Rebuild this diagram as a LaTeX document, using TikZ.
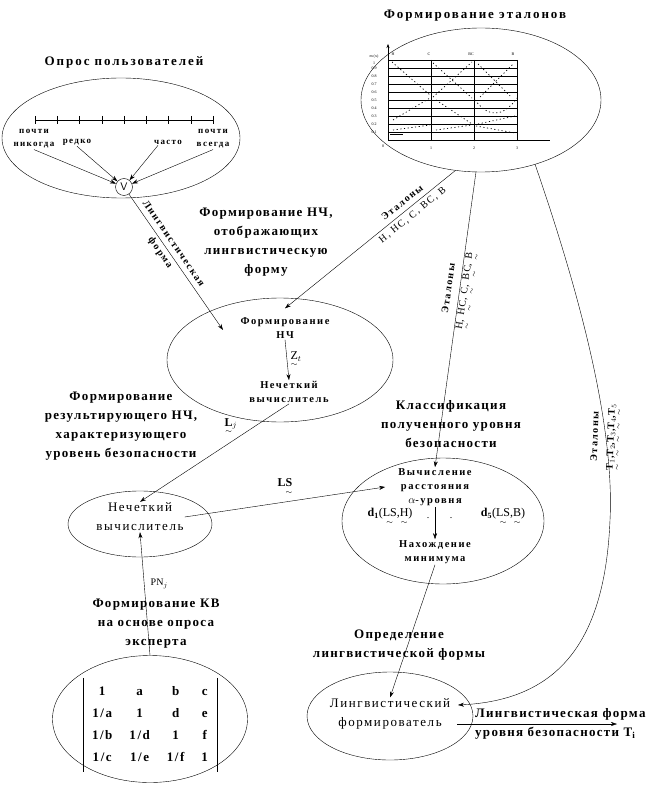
\documentclass[tikz,border=0pt]{standalone}
\usepackage{amsmath}
\usepackage{fontspec}
\setmainfont{Liberation Serif}
\newfontfamily\headfont[LetterSpace=10]{Liberation Serif}
\newfontfamily\widefont[LetterSpace=15]{Liberation Serif}
\newfontfamily\smallfont[LetterSpace=15]{Liberation Serif}
\newfontfamily\bodyfont[LetterSpace=12]{Liberation Serif}
\usetikzlibrary{shapes.geometric,arrows.meta,matrix}

% fuzzy value: tilde under the letter
\newcommand{\fuz}[1]{\ensuremath{\underset{\sim}{\mbox{#1}}}}

\tikzset{
  >={Stealth[length=6pt,width=4pt]},
  heading/.style={font=\headfont\bfseries\fontsize{13}{19}\selectfont, align=center, inner sep=1pt},
  wideheading/.style={heading, font=\widefont\bfseries\fontsize{13}{19}\selectfont},
  inner/.style={font=\smallfont\bfseries\fontsize{10.5}{14}\selectfont, align=center, inner sep=1pt},
  plain/.style={font=\bodyfont\fontsize{13}{19}\selectfont, align=center, inner sep=1pt},
  arrlabel/.style={font=\smallfont\bfseries\fontsize{10}{16}\selectfont, align=center, inner sep=1pt},
  scalelbl/.style={font=\smallfont\bfseries\fontsize{9}{13}\selectfont, align=center, inner sep=1pt},
  tiny/.style={font=\fontsize{4}{5}\selectfont, inner sep=0pt},
  oval/.style={draw, ellipse, inner sep=0pt},
  mf/.style={dash pattern=on 1.2pt off 2.5pt, line width=0.7pt}
}

\begin{document}
\begin{tikzpicture}[x=1pt,y=-1pt]
  \useasboundingbox (0,0) rectangle (646,791);

  % Опрос пользователей
  \node[wideheading] (tUsers) at (124,62) {Опрос пользователей};
  \node[oval, minimum width=238pt, minimum height=120pt] (users) at (121,138) {};
  \draw (35,120) -- (213,120);
  \foreach \x in {35,57.25,...,213} \draw (\x,116) -- (\x,124);
  \node[scalelbl] (lNever) at (34,139) {почти\\никогда};
  \node[scalelbl] (lRare) at (77,142) {редко};
  \node[scalelbl] (lOften) at (168,142) {часто};
  \node[scalelbl] (lAlways) at (213,139) {почти\\всегда};
  \node[draw, circle, fill=white, minimum size=17pt, inner sep=0pt,
        font=\sffamily\fontsize{11}{11}\selectfont] (vee) at (124,187) {V};
  \draw[->] (lNever.south) -- (vee);
  \draw[->] (lRare.south) -- (vee);
  \draw[->] ([xshift=-10pt]lOften.south) -- (vee);
  \draw[->] (lAlways.south) -- (vee);

  % Формирование эталонов
  \node[wideheading] (tEtalon) at (475,16) {Формирование эталонов};
  \node[oval, minimum width=240pt, minimum height=144pt] (etalon) at (481,100) {};
  \begin{scope}[line width=0.6pt]
    \foreach \k in {1,...,10} \draw (388,{140-8*\k}) -- (517,{140-8*\k});
    \foreach \x in {431,474,517} \draw (\x,60) -- (\x,140);
  \end{scope}
  \draw (388,140) -- (550,140);
  \draw[-{Stealth[length=4pt,width=3pt]}] (388,140) -- (388,44);
  \node[tiny] at (374,57) {m (x)};
  \node[tiny] at (374,63) {1};
  \foreach \k in {1,...,9} \node[tiny] at (374,{140-8*\k}) {0.\k};
  \node[tiny] at (383,146) {0};
  \foreach \x/\v in {431/1,474/2,517/3} \node[tiny] at (\x,148) {\v};
  \foreach \x/\v in {393/Н,429/С,471/ВС,513/В} \node[tiny] at (\x,54) {\v};
  % функции принадлежности
  \draw[mf] (392,62) -- (430,95);
  \draw[mf] (393,120) -- (430,98);
  \draw[mf] (393,130) -- (430,125);
  \draw[line width=1pt] (390,135) -- (403,135) (405,133) -- (413,133);
  \draw[mf] (433,63) -- (472,98);
  \draw[mf] (433,97) -- (472,62);
  \draw[mf] (436,100) -- (472,124);
  \draw[mf] (436,130) -- (472,125);
  \draw[mf] (478,64) -- (510,96);
  \draw[mf] (480,97) -- (514,63);
  \draw[mf] (475,100) .. controls (490,120) and (505,115) .. (517,98);
  \draw[mf] (478,124) -- (515,116);
  \draw[mf] (476,126) -- (515,133);

  % Формирование НЧ
  \node[heading] (tFormNF) at (266,242) {Формирование НЧ,\\отображающих\\лингвистическую\\форму};
  \node[oval, minimum width=226pt, minimum height=124pt] (fuzzy) at (280,360) {};
  \node[inner] (fNF) at (285,328) {Формирование\\НЧ};
  \node[inner] (fCalc) at (289,392) {Нечеткий\\вычислитель};
  \draw[->] (fNF.south) -- (fCalc.north)
    node[midway, right, font=\fontsize{12}{12}\selectfont] {\fuz{Z}$_t$};
  \coordinate (lfIn) at (223,330);
  \draw[->] (vee) -- (lfIn) node[arrlabel, sloped, pos=0.4] {Лингвистическая\\форма};
  \draw[->] (etalon.250) -- ([yshift=8pt]fNF.north)
    node[arrlabel, sloped, pos=0.28] {Эталоны\\\mdseries Н, НС, С, ВС, В};

  % Формирование результирующего НЧ
  \node[heading] (tResult) at (121,426) {Формирование\\результирующего НЧ,\\характеризующего\\уровень безопасности};
  \node[oval, minimum width=144pt, minimum height=66pt] (calc) at (140,524) {};
  \node[plain] (cText) at (140,517) {Нечеткий\\вычислитель};
  \draw[->] (fCalc.south) -- (cText.north)
    node[pos=0.39, above=4pt, font=\bfseries\fontsize{12}{12}\selectfont] {\fuz{L}$_j$};

  % Формирование КВ
  \node[heading] (tExpert) at (156,624) {Формирование КВ\\на основе опроса\\эксперта};
  \node[oval, minimum width=195pt, minimum height=127pt] (expert) at (150,719) {};
  \matrix (kv) [matrix of nodes, column sep=15pt, row sep=7pt,
      nodes={font=\bodyfont\bfseries\fontsize{13}{13}\selectfont, inner sep=1pt,
             text height=10pt, text depth=3pt}] at (150,725) {
    1   & a   & b   & c \\
    1/a & 1   & d   & e \\
    1/b & 1/d & 1   & f \\
    1/c & 1/e & 1/f & 1 \\
  };
  \draw ([xshift=-4pt,yshift=3pt]kv.north west) -- ([xshift=-4pt,yshift=-3pt]kv.south west);
  \draw ([xshift=5pt,yshift=3pt]kv.north east) -- ([xshift=5pt,yshift=-3pt]kv.south east);
  \draw[->] (expert.north) -- (cText.south)
    node[pos=0.58, right=3pt, font=\fontsize{10}{10}\selectfont] {PN$_j$};

  % Классификация
  \node[heading] (tClass) at (451,424) {Классификация\\полученного уровня\\безопасности};
  \node[oval, minimum width=202pt, minimum height=126pt] (classif) at (443,521) {};
  \node[inner] (clCalc) at (435,487) {Вычисление\\расстояния\\$\alpha$-уровня};
  \node[font=\fontsize{12}{12}\selectfont, inner sep=1pt] (dOne) at (390,517)
    {\textbf{d}$_{\mathbf 1}$(\fuz{LS},\fuz{Н})};
  \node[font=\fontsize{12}{12}\selectfont, inner sep=1pt] (dFive) at (503,517)
    {\textbf{d}$_{\mathbf 5}$(\fuz{LS},\fuz{В})};
  \node[inner sep=0pt] at (428,518) {.};
  \node[inner sep=0pt] at (451,518) {.};
  \node[inner] (clMin) at (435,552) {Нахождение\\минимума};
  \draw[->] (clCalc.south) -- (clMin.north);
  \draw[->] (cText.east) -- ([xshift=-12pt]clCalc.west)
    node[pos=0.5, above=3pt, font=\bfseries\fontsize{12}{12}\selectfont] {L\fuz{S}};
  \draw[->] (etalon.266) -- (clCalc.north)
    node[arrlabel, sloped, pos=0.4] {Эталоны\\\mdseries\fuz{Н}, \fuz{НС}, \fuz{С}, \fuz{ВС}, \fuz{В}};

  % Определение лингвистической формы
  \node[heading] (tDef) at (399,645) {Определение\\лингвистической формы};
  \node[oval, minimum width=166pt, minimum height=88pt] (lingv) at (390,716) {};
  \node[plain] (lgText) at (390,714) {Лингвистический\\формирователь};
  \draw[->] (clMin.south) -- (lgText.north);
  \coordinate (lgIn) at (458,705);
  \draw[->] (etalon.310) .. controls (575,280) and (615,420) .. (610,520)
    .. controls (605,640) and (560,700) .. (lgIn);
  \node[arrlabel, rotate=88] (tEtT) at (606,437)
    {Эталоны\\\fuz{T}$_1$,\fuz{T}$_2$,\fuz{T}$_3$,\fuz{T}$_4$,\fuz{T}$_5$};
  \coordinate (lgOut) at (457,724);
  \coordinate (outEnd) at (617,724);
  \draw[->] (lgOut) -- (outEnd);
  \node[heading, anchor=west, align=left] (tOut) at (474,724)
    {Лингвистическая форма\\уровня безопасности T$_{\mathbf i}$};
\end{tikzpicture}
\end{document}
